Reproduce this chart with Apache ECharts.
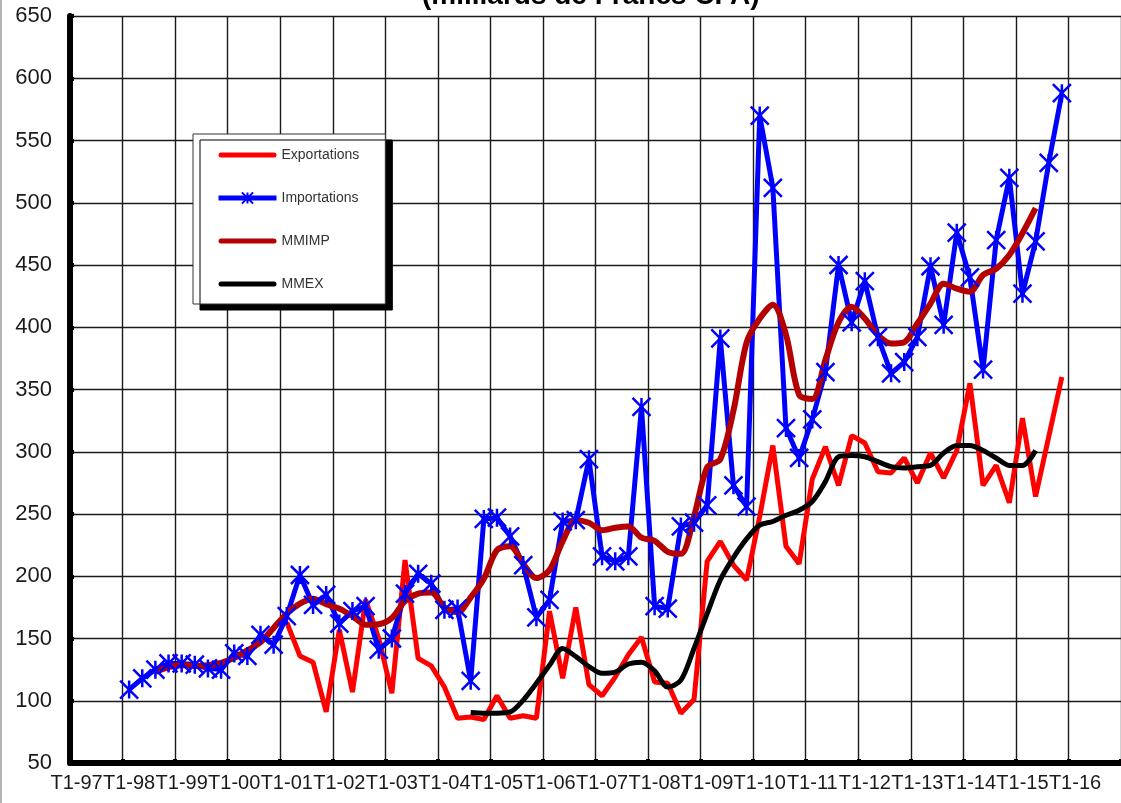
<!DOCTYPE html>
<html>
<head>
<meta charset="utf-8">
<script src="https://cdn.jsdelivr.net/npm/echarts@6/dist/echarts.min.js"></script>
<style>
html,body{margin:0;padding:0;background:#fff;}
#chart{width:1121px;height:803px;}
</style>
</head>
<body>
<div id="chart"></div>
<script>
// Years of the quarterly axis (T1 .. T4 per year)
const years = ['97','98','99','00','01','02','03','04','05','06','07','08','09','10','11','12','13','14','15','16'];
const quarters = ['T1','T2','T3','T4'];
const categories = years.flatMap(y => quarters.map(q => q + '-' + y));

// Series values (milliards de Francs CFA)
// Exportations: from T1-01 to T4-15
const exportStart = 16;
const exportations = [163,136,131,91,157,107,181,150,106,213,
  134,128,111,86,87,85,104,86,88,86,
  172,118,175,113,104,119,137,151,115,114,
  90,101,212,228,209,197,248,305,224,210,
  278,304,273,313,307,284,283,295,275,299,
  279,301,355,273,289,259,327,264,312,360];

// Importations: from T1-98 to T4-15
const importStart = 4;
const importations = [109,118,125,130,130,129,126,125,138,136,
  153,145,168,201,177,185,162,172,176,141,
  150,186,202,194,173,174,116,246,247,232,
  209,167,181,244,245,294,216,212,216,336,
  176,174,240,243,257,391,273,256,570,512,
  319,295,326,364,450,404,437,392,363,372,
  392,449,402,476,440,366,470,520,427,469,
  532,588];

// MMIMP: from T3-98 to T2-15
const mmimpStart = 6;
const mmimp = [123,127,128.5,128,128.5,130.5,134.5,140.5,147,158.5,
  170,178,182,177.5,174,168,161,161.5,166.5,180,
  186,187,175,171,183,198,221,224,210,198.5,
  205,228,245,243,237,239,240,231,228.5,219.6,
  218,248,287.5,294,333,387.7,407,418,394,345.7,
  342.4,374,404,416.5,407,393.6,387,388,403,419,
  435,431,428.5,442,447,458,475.5,495.6];

// MMEX: from T3-04 to T2-15
const mmexStart = 30;
const mmex = [90.5,90,90,91,100.5,114,128.5,142,135.5,127.5,
  122,123,129.5,131,124,111,116.5,142,170,197,
  215,230,241,244,249,253,260,276,296,297,
  296,292,288,287,288,289,299,305,305,301,
  295,289,289,301];

// Y axis ticks
const yMin = 50, yMax = 650, yStep = 50;

function pad(start, arr) {
  const out = new Array(categories.length).fill(null);
  arr.forEach((v, k) => { out[start + k] = v; });
  return out;
}

const starPath = 'path://M0,0L10,10M10,0L0,10M5,0L5,10';
const barIcon = 'path://M2.5,0L55.5,0A2.5,2.5,0,0,1,55.5,5L2.5,5A2.5,2.5,0,0,1,2.5,0Z';
const FONT = 'Liberation Sans, Arial, sans-serif';

const chart = echarts.init(document.getElementById('chart'), null, {renderer: 'canvas'});
chart.setOption({
  backgroundColor: '#ffffff',
  animation: false,
  title: {
    text: '(milliards de Francs CFA)',
    left: 422,
    top: -18,
    padding: 0,
    textStyle: {fontFamily: FONT, fontSize: 28, fontWeight: 'bold', color: '#000'}
  },
  legend: {
    orient: 'vertical',
    left: 193,
    top: 134,
    padding: [14, 26, 13, 23],
    itemWidth: 58,
    itemHeight: 14,
    itemGap: 29,
    symbolKeepAspect: true,
    backgroundColor: '#ffffff',
    borderColor: '#333',
    borderWidth: 1,
    shadowColor: '#000',
    shadowBlur: 0,
    shadowOffsetX: 7,
    shadowOffsetY: 6,
    lineStyle: {width: 5},
    textStyle: {fontFamily: FONT, fontSize: 14, color: '#333'},
    data: [
      {name: 'Exportations', icon: barIcon},
      {name: 'Importations'},
      {name: 'MMIMP', icon: barIcon},
      {name: 'MMEX', icon: barIcon}
    ]
  },
  grid: {left: 70, right: -3, top: 16, bottom: 40, containLabel: false},
  xAxis: {
    type: 'category',
    data: categories,
    boundaryGap: true,
    axisLine: {show: true, onZero: false, lineStyle: {color: '#000', width: 6}},
    axisTick: {show: true, inside: true, interval: 3, length: 4, lineStyle: {color: '#000', width: 4}},
    axisLabel: {interval: 3, margin: 10, fontFamily: FONT, fontSize: 20, color: '#1a1a1a', hideOverlap: false},
    splitLine: {show: true, interval: 3, lineStyle: {color: '#1a1a1a', width: 1.4}}
  },
  yAxis: {
    type: 'value',
    min: yMin,
    max: yMax,
    interval: yStep,
    axisLine: {show: true, lineStyle: {color: '#000', width: 6}},
    axisTick: {show: true, inside: true, length: 4, lineStyle: {color: '#000', width: 4}},
    axisLabel: {margin: 18, fontFamily: FONT, fontSize: 22, color: '#1a1a1a'},
    splitLine: {show: true, lineStyle: {color: '#1a1a1a', width: 1.4}}
  },
  graphic: [{
    type: 'line', shape: {x1: 1, y1: 0, x2: 1, y2: 803},
    style: {stroke: '#9a9a9a', lineWidth: 1.5}, z: 100
  }],
  series: [
    {
      name: 'Exportations', type: 'line', data: pad(exportStart, exportations),
      showSymbol: false, symbol: 'none',
      lineStyle: {color: '#FF0000', width: 5},
      itemStyle: {color: '#FF0000'}
    },
    {
      name: 'Importations', type: 'line', data: pad(importStart, importations),
      symbol: starPath, symbolSize: 18, showAllSymbol: true,
      lineStyle: {color: '#0000FF', width: 5},
      itemStyle: {color: '#0000FF', borderColor: '#0000FF', borderWidth: 2.5}
    },
    {
      name: 'MMIMP', type: 'line', data: pad(mmimpStart, mmimp),
      showSymbol: false, symbol: 'none', smooth: 0.3,
      lineStyle: {color: '#B40000', width: 6},
      itemStyle: {color: '#B40000'}
    },
    {
      name: 'MMEX', type: 'line', data: pad(mmexStart, mmex),
      showSymbol: false, symbol: 'none', smooth: 0.3,
      lineStyle: {color: '#000000', width: 5},
      itemStyle: {color: '#000000'}
    }
  ]
});
</script>
</body>
</html>
